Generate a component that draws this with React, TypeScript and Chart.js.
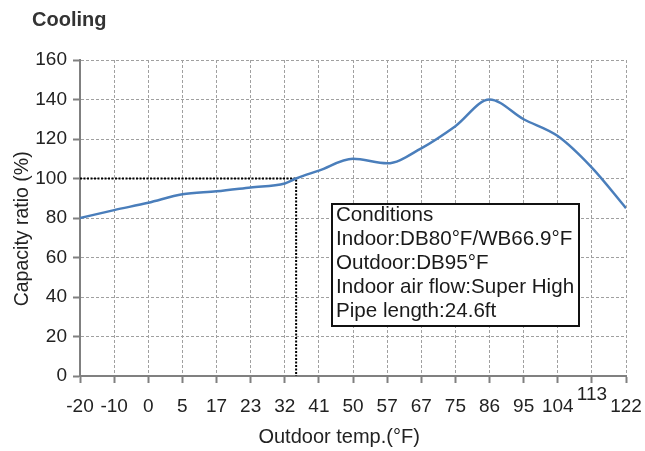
import { useEffect, useRef } from "react";
import { Chart, registerables } from "chart.js";

Chart.register(...registerables);

// ---- data ----
const chartTitle = "Cooling";
const xTitle = "Outdoor temp.(°F)";
const yTitle = "Capacity ratio (%)";

const tempLabels = ["-20", "-10", "0", "5", "17", "23", "32", "41", "50", "57", "67", "75", "86", "95", "104", "113", "122"];
const raisedLabels = ["113"];

const curveTemps = [-20, -10, 0, 5, 17, 23, 32, 35, 41, 50, 57, 67, 75, 86, 95, 104, 113, 122];
const curveCapacity = [80, 84, 87.7, 92, 93.5, 95.5, 97.5, 100, 104, 110, 107.7, 115.3, 126.5, 140, 130, 121.5, 105.5, 85];

const ratedTemp = 35;
const ratedCapacity = 100;

const yMin = 0;
const yMax = 160;
const yStep = 20;

const conditionLines = [
  "Conditions",
  "Indoor:DB80°F/WB66.9°F",
  "Outdoor:DB95°F",
  "Indoor air flow:Super High",
  "Pipe length:24.6ft",
];

// ---- helpers ----
const labelTemps = tempLabels.map(Number);
function tempToPos(t: number): number {
  for (let i = 0; i < labelTemps.length - 1; i++) {
    const a = labelTemps[i];
    const b = labelTemps[i + 1];
    if (t >= a && t <= b) return i + (t - a) / (b - a);
  }
  return t < labelTemps[0] ? 0 : labelTemps.length - 1;
}

const FONT = '"Liberation Sans", Arial, Helvetica, sans-serif';

const overlayPlugin = {
  id: "overlay",
  afterDatasetsDraw(chart: any) {
    const { ctx, chartArea } = chart;
    ctx.save();
    const bx = chartArea.left + 252;
    const by = chartArea.top + 144;
    const bw = 247;
    const bh = 122;
    ctx.fillStyle = "#ffffff";
    ctx.fillRect(bx, by, bw, bh);
    ctx.lineWidth = 2;
    ctx.strokeStyle = "#111111";
    ctx.strokeRect(bx, by, bw, bh);
    ctx.font = `20.6px ${FONT}`;
    ctx.fillStyle = "#1a1a1a";
    ctx.textBaseline = "middle";
    ctx.textAlign = "left";
    conditionLines.forEach((line, i) => {
      ctx.fillText(line, bx + 4, by + 11 + i * 24);
    });
    ctx.font = `bold 20px ${FONT}`;
    ctx.fillStyle = "#333333";
    ctx.textBaseline = "alphabetic";
    ctx.fillText(chartTitle, 32, 26);
    ctx.restore();
  },
};

export default function App() {
  const canvasRef = useRef<HTMLCanvasElement | null>(null);

  useEffect(() => {
    document.body.style.margin = "0";
    const canvas = canvasRef.current;
    if (!canvas) return;
    Chart.defaults.font.family = FONT;

    const curve = curveTemps.map((t, i) => ({ x: tempToPos(t), y: curveCapacity[i] }));
    const ratedPos = tempToPos(ratedTemp);
    const refLine = [
      { x: 0, y: ratedCapacity },
      { x: ratedPos, y: ratedCapacity },
      { x: ratedPos, y: yMin },
    ];

    const gridCommon = {
      color: "#a0a0a0",
      lineWidth: 1,
      tickColor: "#808080",
      tickWidth: 2,
      tickLength: 7,
    };
    const borderCommon = { display: true, color: "#808080", width: 2, dash: [3, 2] };

    const chart = new Chart(canvas, {
      type: "line",
      data: {
        datasets: [
          {
            data: curve,
            borderColor: "#4a7ebb",
            borderWidth: 2.5,
            pointRadius: 0,
            cubicInterpolationMode: "monotone",
            fill: false,
            order: 1,
          },
          {
            data: refLine,
            borderColor: "#000000",
            borderWidth: 2,
            borderDash: [2, 1.5],
            pointRadius: 0,
            tension: 0,
            fill: false,
            order: 2,
          },
        ],
      },
      options: {
        responsive: false,
        animation: false,
        events: [],
        layout: { padding: { top: 60, right: 19, left: 0, bottom: 0 } },
        plugins: {
          legend: { display: false },
          tooltip: { enabled: false },
          title: { display: false },
        },
        scales: {
          x: {
            type: "linear",
            min: 0,
            max: tempLabels.length - 1,
            afterFit: (s: any) => {
              s.height = 75;
              s.paddingLeft = 0;
              s.paddingRight = 0;
            },
            afterBuildTicks: (s: any) => {
              s.ticks = tempLabels.map((_, i) => ({ value: i }));
            },
            grid: gridCommon,
            border: borderCommon,
            ticks: {
              autoSkip: false,
              maxRotation: 0,
              padding: 6,
              color: "#222222",
              font: { size: 19, lineHeight: 12 / 19 },
              callback: (v: any) => {
                const l = tempLabels[Math.round(Number(v))];
                return raisedLabels.includes(l) ? [l, ""] : ["", l];
              },
            },
            title: {
              display: true,
              text: xTitle + "     ",
              color: "#222222",
              font: { size: 20 },
              padding: { top: 0, bottom: 2 },
            },
          },
          y: {
            min: yMin,
            max: yMax,
            afterFit: (s: any) => {
              s.width = 80;
            },
            grid: gridCommon,
            border: borderCommon,
            ticks: {
              stepSize: yStep,
              padding: 6,
              color: "#222222",
              font: { size: 19 },
            },
            title: {
              display: true,
              text: yTitle + "    ",
              color: "#222222",
              font: { size: 19.5 },
              padding: { top: 11, bottom: 0 },
            },
          },
        },
      },
      plugins: [overlayPlugin],
    } as any);

    return () => chart.destroy();
  }, []);

  return (
    <div style={{ width: 645, height: 451 }}>
      <canvas ref={canvasRef} width={645} height={451} style={{ display: "block" }} />
    </div>
  );
}
